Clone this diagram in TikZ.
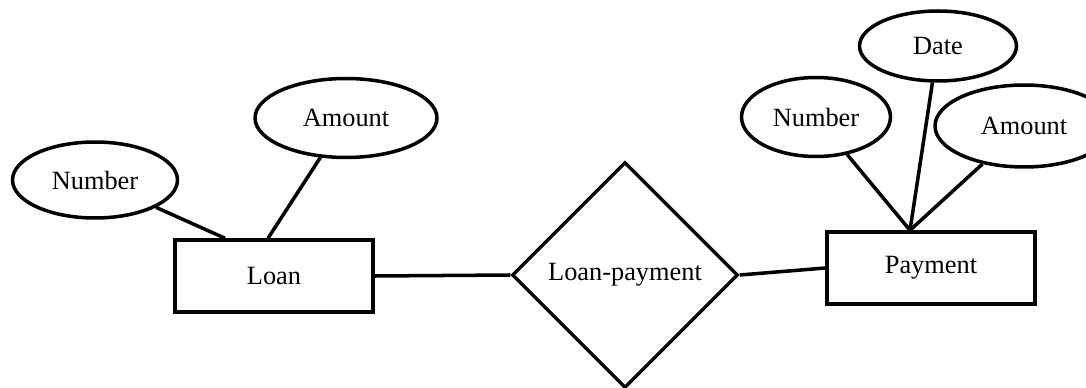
\documentclass[tikz,border=0pt]{standalone}
\usepackage{fontspec}
\setmainfont{Liberation Serif}
\usetikzlibrary{shapes.geometric}

\begin{document}
\begin{tikzpicture}[x=0.02cm,y=-0.02cm,line width=2pt,
	entity/.style={draw,rectangle,inner sep=0,minimum width=#1,minimum height=1.44cm},
	attrib/.style={draw,ellipse,inner sep=0},
	relship/.style={draw,diamond,inner sep=0,minimum width=4.52cm,minimum height=4.52cm},
	every node/.style={font=\fontsize{15}{18}\selectfont}]
\useasboundingbox (0,0) rectangle (1086,388);
\node (loan) at (274,276) [entity=3.96cm] {Loan};
\node (pay) at (931,268) [entity=4.16cm] {Payment};
\node (rel) at (625,275) [relship] {Loan-payment};
\node (lnum) at (95,180) [attrib,minimum width=3.3cm,minimum height=1.52cm] {Number};
\node (lamt) at (346,118) [attrib,minimum width=3.64cm,minimum height=1.58cm] {Amount};
\node (pnum) at (816,117) [attrib,minimum width=2.98cm,minimum height=1.58cm] {Number};
\node (pdate) at (938,46) [attrib,minimum width=3.14cm,minimum height=1.4cm] {Date};
\node (pamt) at (1024,126) [attrib,minimum width=3.56cm,minimum height=1.64cm] {Amount};

\coordinate (lnumend) at ([xshift=-0.98cm]loan.north);
\coordinate (lamtend) at ([xshift=-0.12cm]loan.north);
\coordinate (meet) at ([xshift=-0.42cm]pay.north);

\draw (lnum) -- (lnumend);
\draw (lamt) -- (lamtend);
\draw (pnum) -- (meet);
\draw (pdate) -- (meet);
\draw (pamt) -- (meet);
\draw (loan.east) -- (rel.west);
\draw (rel.east) -- (pay.west);
\end{tikzpicture}
\end{document}
